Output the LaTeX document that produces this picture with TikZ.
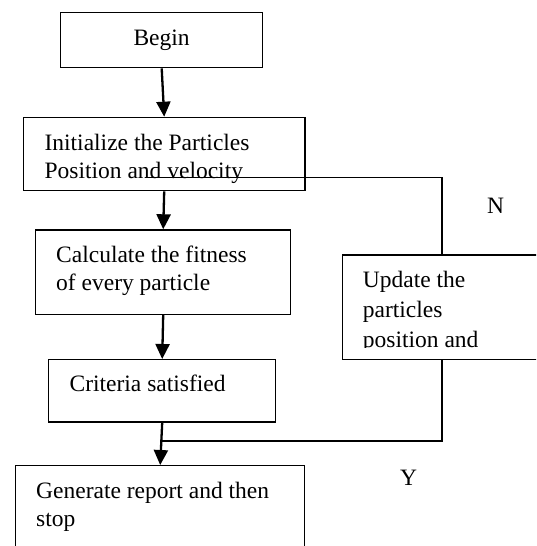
\documentclass[tikz,border=0pt]{standalone}
\usepackage{fontspec}
\setmainfont{Liberation Serif}
\usetikzlibrary{arrows.meta,calc}
\begin{document}
\begin{tikzpicture}[x=1pt,y=-1pt,
  box/.style={draw,line width=1.4pt,rectangle,inner sep=0pt,anchor=north west},
  lbl/.style={inner sep=0pt,anchor=base west,font=\fontsize{23.5}{28}\selectfont},
  arr/.style={line width=2.3pt,-{Triangle[width=14pt,length=15pt]}},
  wire/.style={line width=1.4pt}]
\fill[white] (0,0) rectangle (536,546);
\clip (0,0) rectangle (536,546);
% boxes
\node[box,minimum width=202pt,minimum height=55pt] (begin) at (60,12) {};
\node[box,minimum width=281.6pt,minimum height=73.3pt] (init) at (22.7,116.7) {};
\node[box,minimum width=255pt,minimum height=84.4pt] (calc) at (35,229.3) {};
\node[box,minimum width=227pt,minimum height=62.3pt] (crit) at (48,359) {};
\node[box,minimum width=230pt,minimum height=104.7pt] (update) at (342,254.3) {};
\node[box,minimum width=289pt,minimum height=100pt] (gen) at (15,465) {};
% texts
\node[lbl] (tbegin) at (133.3,45) {Begin};
\node[lbl] (tinit1) at (44.4,150) {Initialize the Particles};
\node[lbl] (tinit2) at (44.4,178) {Position and velocity};
\node[lbl] (tcalc1) at (56,262.7) {Calculate the fitness};
\node[lbl] (tcalc2) at (56,290.7) {of every particle};
\node[lbl] (tcrit) at (69.4,391) {Criteria satisfied};
\begin{scope}
\clip (342,254.3) rectangle (536,347);
\node[lbl] (tupd1) at (362.7,287.5) {Update the};
\node[lbl] (tupd2) at (362.7,317.5) {particles};
\node[lbl] (tupd3) at (362.7,347.5) {position and};
\end{scope}
\node[lbl] (tgen1) at (36,498.3) {Generate report and then};
\node[lbl] (tgen2) at (36,526.7) {stop};
\node[lbl] (tN) at (487,213) {N};
\node[lbl] (tY) at (400,485) {Y};
% connectors
\draw[arr] (begin.south) -- (init.north);
\draw[arr] (init.south) -- (calc.north);
\draw[arr] (calc.south) -- (crit.north);
\draw[arr] (crit.south) -- (gen.north);
\coordinate (fb1) at (145,177.7);
\coordinate (fb2) at (442,177.7);
\coordinate (j) at ($(crit.south)!0.43!(gen.north)$);
\draw[wire] (fb1) -- (fb2) -- (fb2 |- update.north);
\draw[wire] (fb2 |- update.south) |- (j);
\end{tikzpicture}
\end{document}
